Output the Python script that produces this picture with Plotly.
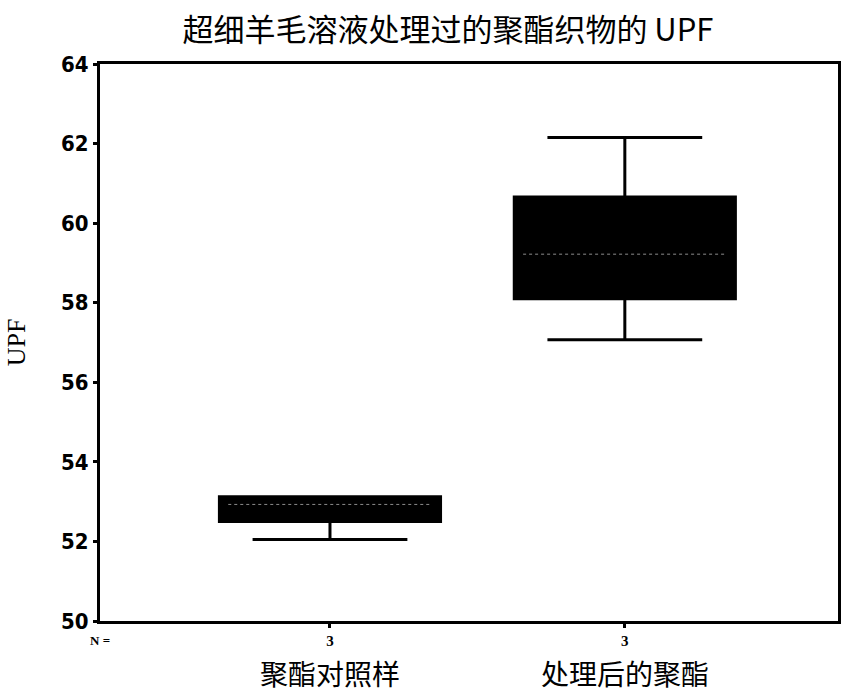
import plotly.graph_objects as go

# Group names and sample counts
groups = ["聚酯对照样", "处理后的聚酯"]
n_counts = [3, 3]

# Box-plot statistics (UPF)
lower_whisker = [52.05, 57.07]
q1 = [52.50, 58.10]
median = [52.93, 59.22]
q3 = [53.12, 60.66]
upper_whisker = [53.12, 62.15]

y_ticks = [50, 52, 54, 56, 58, 60, 62, 64]

positions = list(range(len(groups)))
box_width = 0.75

fig = go.Figure()

fig.add_trace(go.Box(
    x=positions,
    q1=q1,
    median=median,
    q3=q3,
    lowerfence=lower_whisker,
    upperfence=upper_whisker,
    width=box_width,
    whiskerwidth=0.70,
    fillcolor="black",
    line=dict(color="black", width=3),
    boxpoints=False,
    showlegend=False,
    hoverinfo="skip",
))

# Faint dotted median line drawn across each filled box
for p, m in zip(positions, median):
    fig.add_trace(go.Scatter(
        x=[p - box_width / 2 + 0.03, p + box_width / 2 - 0.03],
        y=[m, m],
        mode="lines",
        line=dict(color="rgba(200,200,200,0.7)", width=1, dash="dot"),
        showlegend=False,
        hoverinfo="skip",
    ))

# Group names under the sample counts
for p, g in zip(positions, groups):
    fig.add_annotation(
        x=p, y=-0.093, xref="x", yref="paper",
        text=g, showarrow=False,
        font=dict(family="Noto Sans CJK SC", size=28, color="black"),
        xanchor="center", yanchor="middle",
    )

fig.add_annotation(
    x=0.0, y=-0.018, xref="paper", yref="paper",
    text="<b>N =</b>", showarrow=False,
    font=dict(family="Liberation Serif", size=13, color="black"),
    xanchor="center", yanchor="top",
)

fig.update_layout(
    width=850, height=695,
    margin=dict(l=100, r=9, t=64, b=74),
    paper_bgcolor="white",
    plot_bgcolor="white",
    title=dict(
        text="超细羊毛溶液处理过的聚酯织物的 UPF",
        x=0.527, xanchor="center", y=0.957, yanchor="middle",
        font=dict(family="Noto Sans CJK SC", size=31, color="black"),
    ),
    xaxis=dict(
        range=[-0.78, 1.723],
        tickvals=positions,
        ticktext=[f"<b>{n}</b>" for n in n_counts],
        tickfont=dict(family="Liberation Serif", size=15, color="black"),
        ticks="outside", ticklen=4, tickwidth=3, tickcolor="black",
        showline=True, linecolor="black", linewidth=3, mirror=True,
        showgrid=False, zeroline=False,
    ),
    yaxis=dict(
        range=[50, 64],
        tickvals=y_ticks,
        ticktext=[f"<b>{t}</b>" for t in y_ticks],
        tickfont=dict(family="Liberation Sans Narrow, DejaVu Sans Condensed", size=22, color="black"),
        ticks="outside", ticklen=4, tickwidth=3, tickcolor="black",
        showline=True, linecolor="black", linewidth=3, mirror=True,
        showgrid=False, zeroline=False,
        title=dict(text="UPF", standoff=28,
                   font=dict(family="Liberation Serif", size=26, color="black")),
    ),
)

fig.write_html("out.html")
